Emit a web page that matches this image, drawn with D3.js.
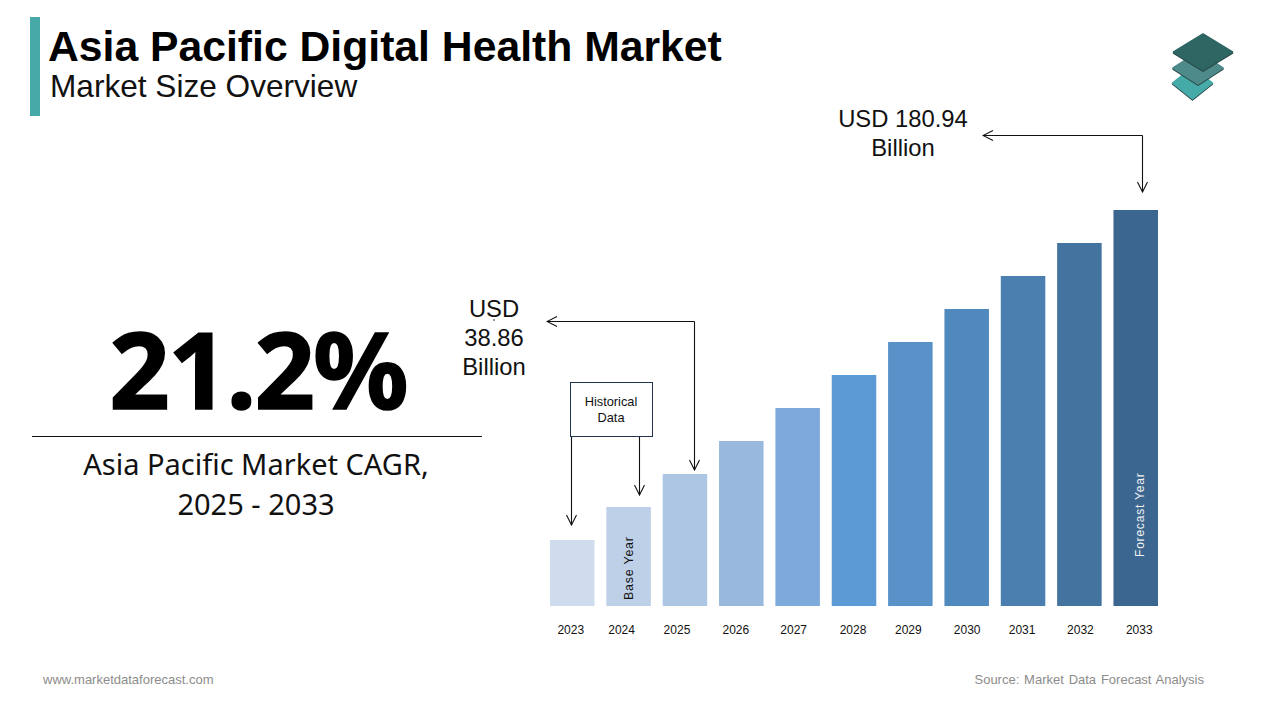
<!DOCTYPE html>
<html><head><meta charset="utf-8">
<script src="https://cdnjs.cloudflare.com/ajax/libs/d3/7.8.5/d3.min.js"></script>
<style>html,body{margin:0;padding:0;background:#fff;overflow:hidden}svg{display:block}text{font-family:"Liberation Sans",Arial,sans-serif}</style>
</head><body><svg id="c" width="1280" height="720"></svg>
<script>
const years=["2023","2024","2025","2026","2027","2028","2029","2030","2031","2032","2033"];
// Relative bar heights as drawn in the picture (the bars are illustrative, not to value scale)
const barValues=[2,3,4,5,6,7,8,9,10,11,12];
const barColors=["#cfdcee","#bdd0e8","#adc6e4","#98b8de","#7eaadb","#5c9ad5","#5892c9","#5089bd","#4a7fb0","#42749f","#3b668f"];
const tickNudge=[-1.5,-7,-8,-5.5,-4,-1,-2,0.5,-1,1,3.5];
const svg=d3.select("#c");
const x=d3.scaleBand().domain(years).range([550,1158]).paddingInner(0.21).paddingOuter(0);
const y=d3.scaleLinear().domain([0,12]).range([606,210]);
const defs=svg.append("defs");
defs.append("marker").attr("id","arr").attr("viewBox","0 0 12 12").attr("refX",11).attr("refY",6)
 .attr("markerWidth",12).attr("markerHeight",12).attr("markerUnits","userSpaceOnUse").attr("orient","auto")
 .append("path").attr("d","M1,1 L11,6 L1,11").attr("fill","none").attr("stroke","#111").attr("stroke-width",1.1);
// header
svg.append("rect").attr("x",30).attr("y",17).attr("width",10).attr("height",99).attr("fill","#47aaa8");
svg.append("text").attr("x",48).attr("y",61).attr("font-size",42.7).attr("font-weight",700).attr("fill","#000").text("Asia Pacific Digital Health Market");
svg.append("text").attr("x",50).attr("y",97).attr("font-size",31.6).attr("fill","#111").text("Market Size Overview");
// logo
const logo=svg.append("g");
[[1192.5,83,20,16,"#46aaa8"],[1198,68,25,16,"#4f8a8b"],[1203,52,29.5,18,"#2e6663"]].forEach(d=>{
 const p=`M${d[0]},${d[1]-d[3]} L${d[0]+d[2]},${d[1]} L${d[0]},${d[1]+d[3]} L${d[0]-d[2]},${d[1]} Z`;
 logo.append("path").attr("d",p).attr("transform","translate(0,1)").attr("fill","#24403f").attr("stroke","#24403f").attr("stroke-width",1.5).attr("stroke-linejoin","round");
 logo.append("path").attr("d",p).attr("fill",d[4]).attr("stroke",d[4]).attr("stroke-width",1.5).attr("stroke-linejoin","round");
});
// CAGR panel
svg.append("text").attr("x",258).attr("y",409).attr("text-anchor","middle").attr("font-size",106).attr("font-weight",700).attr("letter-spacing",-2).attr("fill","#000").attr("stroke","#000").attr("stroke-width",1.5).style("font-family","'Noto Sans'").text("21.2%");
svg.append("line").attr("x1",32).attr("x2",482).attr("y1",436.5).attr("y2",436.5).attr("stroke","#111");
["Asia Pacific Market CAGR,","2025 - 2033"].forEach((t,i)=>svg.append("text").attr("x",256).attr("y",475+i*40).attr("text-anchor","middle").attr("font-size",29).style("font-family","'Noto Sans'").attr("fill","#111").text(t));
// bars
svg.append("g").selectAll("rect").data(years).join("rect")
 .attr("x",d=>x(d)).attr("width",x.bandwidth())
 .attr("y",(d,i)=>y(barValues[i])).attr("height",(d,i)=>y(0)-y(barValues[i]))
 .attr("fill",(d,i)=>barColors[i]);
// axis
const ax=svg.append("g").attr("transform","translate(0,606)").call(d3.axisBottom(x).tickSize(0).tickPadding(19));
ax.select(".domain").remove();
ax.selectAll("text").attr("font-size",12).attr("fill","#111").style("font-family","'Liberation Sans'").attr("dx",(d,i)=>tickNudge[i]);
// rotated labels
const rot=(t,px,py,c,fs)=>svg.append("text").attr("transform",`translate(${px},${py}) rotate(-90)`).attr("font-size",fs).attr("letter-spacing",0.8).attr("fill",c).text(t);
rot("Base Year",633,600,"#111",12.4);
rot("Forecast Year",1144,557,"#f2f2f2",12);
// annotations
const lines=(arr,cx,y0,dy,fs)=>arr.forEach((t,i)=>svg.append("text").attr("x",cx).attr("y",y0+i*dy).attr("text-anchor","middle").attr("font-size",fs).attr("fill","#111").text(t));
lines(["USD 180.94","Billion"],903,127,29,23.8);
lines(["USD","38.86","Billion"],494,317,29,23.8);
svg.append("line").attr("x1",494).attr("x2",494).attr("y1",319).attr("y2",321).attr("stroke","#333");
const arrow=d=>svg.append("path").attr("d",d).attr("fill","none").attr("stroke","#111").attr("stroke-width",1.1).attr("marker-end","url(#arr)");
arrow("M1142.5,135.5 V192");
arrow("M1142.5,135.5 H983");
arrow("M694.5,321.5 H547");
arrow("M694.5,321.5 V470");
svg.append("rect").attr("x",570.5).attr("y",382.5).attr("width",82).attr("height",54).attr("fill","#fff").attr("stroke","#1f3550");
lines(["Historical","Data"],611,406,16,12.8);
arrow("M571.5,437 V525");
arrow("M639.5,437 V495");
// footer
svg.append("text").attr("x",43).attr("y",684).attr("font-size",13).attr("fill","#8c8c8c").text("www.marketdataforecast.com");
svg.append("text").attr("x",1204).attr("y",684).attr("text-anchor","end").attr("font-size",13).attr("fill","#8c8c8c").attr("word-spacing",1.2).text("Source: Market Data Forecast Analysis");
</script></body></html>
